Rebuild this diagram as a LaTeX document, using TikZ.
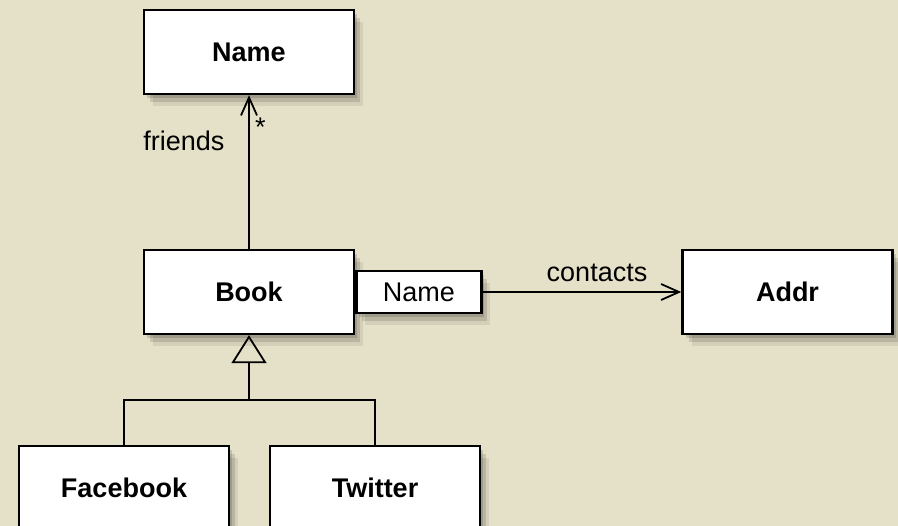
\documentclass[tikz,border=0pt]{standalone}
\usepackage{fontspec}
\setmainfont{Liberation Sans}
\usepackage{xcolor}
\usetikzlibrary{arrows.meta, shadows, positioning}
\definecolor{paper}{RGB}{229,225,200}
\newcommand{\umlsize}{\fontsize{27}{32}\selectfont}
\tikzset{
	boxshadow/.style={
		general shadow={fill=black, opacity=.14, shadow xshift=3pt, shadow yshift=-4pt},
		general shadow={fill=black, opacity=.12, shadow xshift=6pt, shadow yshift=-8pt},
		general shadow={fill=black, opacity=.08, shadow xshift=9pt, shadow yshift=-12pt}},
	cls/.style={draw, line width=2.4pt, fill=white, minimum width=210pt, minimum height=84pt,
		inner sep=0pt, font=\umlsize\bfseries, boxshadow},
	qualbox/.style={draw, line width=2.4pt, fill=white, minimum width=125pt, minimum height=42pt,
		inner sep=0pt, boxshadow},
	assoc/.style={line width=1.8pt, -{Straight Barb[length=18pt,width=16pt,line width=1.8pt]}},
	inherit/.style={line width=1.8pt, -{Triangle[open,length=28pt,width=35pt,line width=1.8pt]}},
}
\begin{document}
\begin{tikzpicture}[x=1pt, y=-1pt, font=\umlsize]
	\useasboundingbox (0,0) rectangle (898,526);
	\fill[paper] (0,0) rectangle (898,526);
	\clip (0,0) rectangle (898,526);
	\node[cls] (name) at (249,52) {Name};
	\node[cls] (book) at (249,292) {Book};
	\node[qualbox, anchor=west] (qual) at (book.east) {Name};
	\node[cls] (addr) at (787.5,292) {Addr};
	\node[cls] (fb) at (124,488) {Facebook};
	\node[cls] (tw) at (375,488) {Twitter};
	\draw[assoc] (book.north) -- (name.south);
	\node[anchor=base east] (friends) at (228,151) {friends};
	\node[anchor=base west, inner sep=0pt] (many) at (255,137) {*};
	\draw[assoc] (qual.east) -- (addr.west);
	\node[anchor=base] (contacts) at (597,282) {contacts};
	\coordinate (junc) at (249,400);
	\draw[inherit] (fb.north) |- (junc) -- (book.south);
	\draw[line width=1.8pt] (tw.north) |- (junc);
\end{tikzpicture}
\end{document}
